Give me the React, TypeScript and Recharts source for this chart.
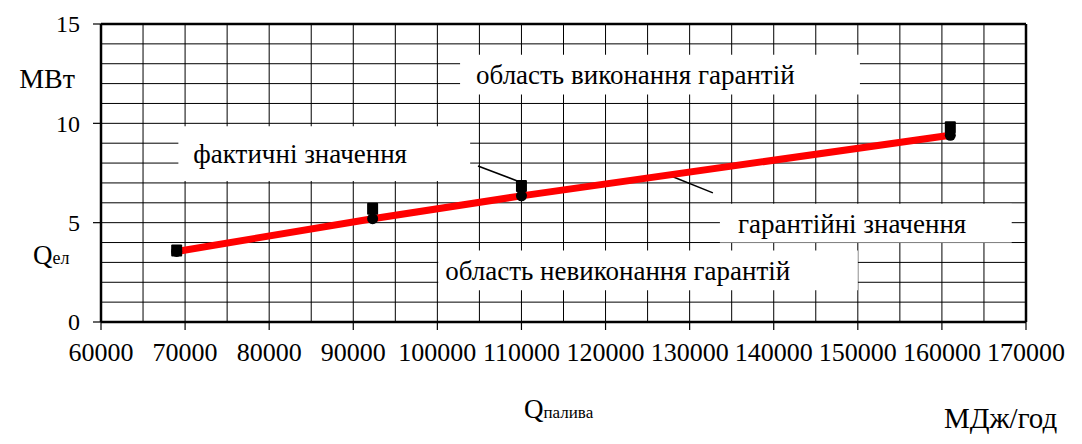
import React from 'react';
import {
  ComposedChart,
  XAxis,
  YAxis,
  CartesianGrid,
  Line,
  Scatter,
  ReferenceLine,
  ReferenceArea,
  Label,
} from 'recharts';

// ---- data ----
const fuelValues = [69000, 92300, 110000, 161000];
const actualValues = [3.6, 5.7, 6.85, 9.8];
const guaranteeValues = [3.55, 5.2, 6.35, 9.4];

const xTicks = [60000, 70000, 80000, 90000, 100000, 110000, 120000, 130000, 140000, 150000, 160000, 170000];
const yTicks = [0, 5, 10, 15];
const yGridValues = [0, 1, 2, 3, 4, 5, 6, 7, 8, 9, 10, 11, 12, 13, 14, 15];
const xGridValues = [
  60000, 65000, 70000, 75000, 80000, 85000, 90000, 95000, 100000, 105000, 110000, 115000,
  120000, 125000, 130000, 135000, 140000, 145000, 150000, 155000, 160000, 165000, 170000,
];

const actualData = fuelValues.map((x, i) => ({ x, y: actualValues[i] }));
const guaranteeData = fuelValues.map((x, i) => ({ x, y: guaranteeValues[i] }));

// ---- annotations ----
const boxes = [
  { x1: 102700, x2: 150250, y1: 11.45, y2: 13.45, text: 'область виконання гарантій', offset: 16 },
  { x1: 69200, x2: 103900, y1: 7.1, y2: 9.85, text: 'фактичні значення', offset: 15 },
  { x1: 133600, x2: 168300, y1: 4.0, y2: 5.95, text: 'гарантійні значення', offset: 18 },
  { x1: 100100, x2: 150000, y1: 1.6, y2: 3.6, text: 'область невиконання гарантій', offset: 7 },
];

const leaders = [
  [{ x: 104830, y: 7.85 }, { x: 109820, y: 7.05 }],
  [{ x: 127780, y: 7.35 }, { x: 132770, y: 6.5 }],
];

const FONT = 'Liberation Serif';

const Square = (p: any) => (
  <rect x={p.cx - 5.5} y={p.cy - 6} width={11} height={12} fill="#000" rx={1} />
);
const Dot = (p: any) => <circle cx={p.cx} cy={p.cy} r={5.5} fill="#000" />;

const XTick = (p: any) => (
  <text x={p.x} y={p.y} dy="0.71em" textAnchor="middle" fontSize={26} fontFamily={FONT} fill="#000">
    {p.payload.value}
  </text>
);
const YTick = (p: any) => (
  <text x={80} y={p.y} dy="0.35em" textAnchor="end" fontSize={24} fontFamily={FONT} fill="#000">
    {p.payload.value}
  </text>
);

export default function App() {
  return (
    <div style={{ position: 'absolute', left: 0, top: 0, width: 1082, height: 444, background: '#fff' }}>
      <ComposedChart
        width={1082}
        height={444}
        margin={{ top: 24, right: 56, bottom: 62, left: 41 }}
      >
        <CartesianGrid
          stroke="#000"
          strokeWidth={1}
          horizontalValues={yGridValues}
          verticalValues={xGridValues}
          fill="#fff"
        />
        <XAxis
          type="number"
          dataKey="x"
          domain={[60000, 170000]}
          ticks={xTicks}
          interval={0}
          allowDataOverflow
          height={60}
          tickSize={8}
          tickMargin={13}
          axisLine={{ stroke: '#000', strokeWidth: 2.5 }}
          tickLine={{ stroke: '#000', strokeWidth: 1.2 }}
          tick={XTick}
        />
        <YAxis
          type="number"
          dataKey="y"
          domain={[0, 15]}
          ticks={yTicks}
          interval={0}
          allowDataOverflow
          width={60}
          tickSize={8}
          tickMargin={14}
          axisLine={{ stroke: '#000', strokeWidth: 2.5 }}
          tickLine={{ stroke: '#000', strokeWidth: 1.2 }}
          tick={YTick}
        />
        {boxes.map((b, i) => (
          <ReferenceArea
            key={'b' + i}
            x1={b.x1}
            x2={b.x2}
            y1={b.y1}
            y2={b.y2}
            fill="#fff"
            fillOpacity={1}
            stroke="none"
            ifOverflow="visible"
          >
            <Label
              value={b.text}
              position="insideLeft"
              offset={b.offset}
              fill="#000"
              fontSize={27}
              fontFamily={FONT}
            />
          </ReferenceArea>
        ))}
        <ReferenceLine y={15} stroke="#000" strokeWidth={2.5} />
        <ReferenceLine x={170000} stroke="#000" strokeWidth={2.5} />
        {leaders.map((s, i) => (
          <ReferenceLine key={'l' + i} segment={s} stroke="#000" strokeWidth={1.5} />
        ))}
        <Scatter data={actualData} dataKey="y" shape={Square} isAnimationActive={false} />
        <Scatter data={guaranteeData} dataKey="y" shape={Dot} isAnimationActive={false} />
        <Line
          data={guaranteeData}
          dataKey="y"
          type="linear"
          stroke="#ff0000"
          strokeWidth={7}
          strokeLinecap="round"
          dot={false}
          activeDot={false}
          isAnimationActive={false}
        />
      </ComposedChart>
      <svg
        width={1082}
        height={444}
        style={{ position: 'absolute', left: 0, top: 0, pointerEvents: 'none' }}
      >
        <text x={75} y={88} textAnchor="end" fontSize={28} fontFamily={FONT} fill="#000">МВт</text>
        <text x={33} y={264} fontFamily={FONT} fill="#000">
          <tspan fontSize={27}>Q</tspan>
          <tspan fontSize={18}>ел</tspan>
        </text>
        <text x={524} y={418} fontFamily={FONT} fill="#000">
          <tspan fontSize={27}>Q</tspan>
          <tspan fontSize={17}>палива</tspan>
        </text>
        <text x={944} y={428} fontSize={29} fontFamily={FONT} fill="#000">МДж/год</text>
      </svg>
    </div>
  );
}
